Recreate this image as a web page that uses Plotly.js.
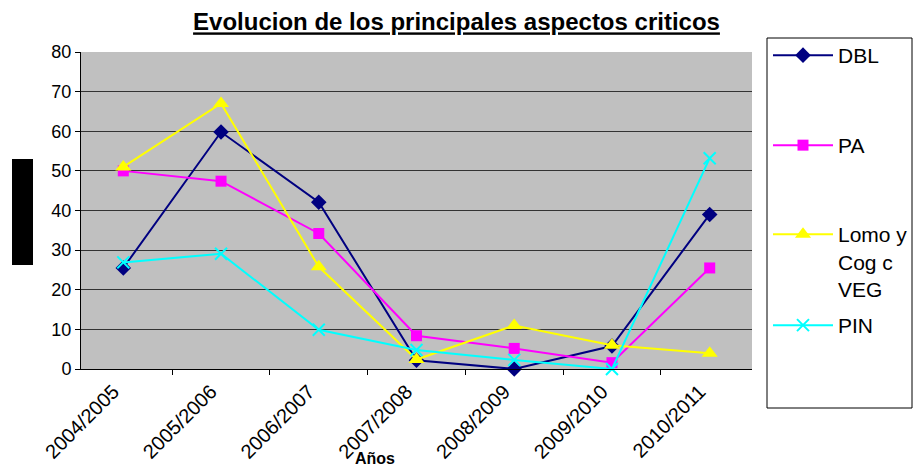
<!DOCTYPE html>
<html><head><meta charset="utf-8">
<script src="https://cdn.plot.ly/plotly-3.0.1.min.js"></script>
<style>html,body{margin:0;padding:0;background:#fff}#chart{width:913px;height:468px}</style>
</head><body><div id="chart"></div>
<script>
const years = ["2004/2005","2005/2006","2006/2007","2007/2008","2008/2009","2009/2010","2010/2011"];
const dbl  = [25.5, 59.8, 42.1, 2.2, 0, 5.8, 39];
const pa   = [50, 47.4, 34.2, 8.4, 5.2, 1.6, 25.5];
const lomo = [51, 67, 25.8, 2.4, 11, 6, 4];
const pin  = [26.9, 29.1, 9.9, 4.8, 2.3, 0, 53.2];
const names = ["DBL","PA","Lomo y<br>Cog c<br>VEG","PIN"];

const F = "Arial, 'Liberation Sans', sans-serif";
function tr(y, name, color, sym, size, leg){
  return {x: years, y: y, name: name, type:'scatter', mode:'lines+markers',
    line:{color:color, width:2},
    marker:{symbol:sym, size:size, color:color, line:{color:color, width: sym==='x-thin'?2:0}},
    legend: leg, cliponaxis:false};
}
const data = [
  tr(dbl, names[0], '#000080', 'diamond', 12, 'legend'),
  tr(pa, names[1], '#ff00ff', 'square', 11, 'legend2'),
  tr(lomo, names[2], '#ffff00', 'triangle-up', 14, 'legend3'),
  tr(pin, names[3], '#00ffff', 'x-thin', 12, 'legend4')
];
const X0 = 81, X1 = 752, Y0 = 52, Y1 = 369;
const px = v => (v - X0)/(X1 - X0);
const py = v => (Y1 - v)/(Y1 - Y0);
function leg(ycenter){
  return {x: px(768), xanchor:'left', y: py(ycenter - 20), yanchor:'top', valign:'top', itemwidth:60,
    bgcolor:'rgba(0,0,0,0)', borderwidth:0, font:{family:F, size:21, color:'#000'}};
}
const layout = {
  width: 913, height: 468,
  margin:{l:X0, r:913-X1, t:Y0, b:468-Y1, autoexpand:false},
  paper_bgcolor:'#ffffff', plot_bgcolor:'#c0c0c0',
  title:{text:'<b><u>Evolucion de los principales aspectos criticos</u></b>', xref:'container', yref:'container',
    x:0.5, xanchor:'center', y:1-22/468, yanchor:'middle', font:{family:F, size:24, color:'#000'}},
  xaxis:{type:'category', tickson:'boundaries', ticks:'outside', ticklen:5, tickcolor:'#000',
    showgrid:false, showline:true, linecolor:'#000', linewidth:1, tickangle:-45, automargin:false,
    ticklabelshift:-10, ticklabelstandoff:2,
    tickfont:{family:F, size:20, color:'#000'}, mirror:false},
  yaxis:{range:[0,80], dtick:10, ticks:'outside', ticklen:5, tickcolor:'#000', automargin:false,
    showgrid:true, gridcolor:'#333', gridwidth:1, showline:true, linecolor:'#000', linewidth:1,
    zeroline:false, tickfont:{family:F, size:18, color:'#000'}},
  legend: leg(55), legend2: leg(145), legend3: leg(234), legend4: leg(325),
  showlegend:true,
  shapes:[
    {type:'rect', xref:'paper', yref:'paper', x0:px(12), x1:px(33), y0:py(265), y1:py(159),
      fillcolor:'#000', line:{width:0}},
    {type:'rect', xref:'paper', yref:'paper', x0:px(767), x1:px(912), y0:py(408), y1:py(38),
      fillcolor:'rgba(0,0,0,0)', line:{color:'#000', width:1}}
  ],
  annotations:[
    {text:'<b>Años</b>', xref:'paper', yref:'paper', x:px(375), y:py(458), xanchor:'center', yanchor:'middle',
      showarrow:false, font:{family:F, size:16, color:'#000'}}
  ]
};
Plotly.newPlot('chart', data, layout, {displayModeBar:false, staticPlot:true});
</script>
</body></html>
